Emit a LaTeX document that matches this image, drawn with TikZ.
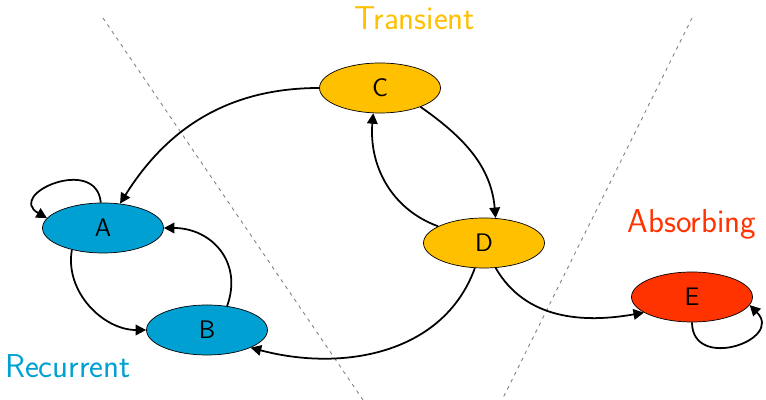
\documentclass[tikz,border=0pt]{standalone}
\usepackage{tikz}
\usetikzlibrary{arrows.meta, positioning, shapes.geometric}
\usepackage{xcolor}

\definecolor{recblue}{RGB}{0,160,210}
\definecolor{transorange}{RGB}{255,192,0}
\definecolor{absred}{RGB}{255,51,0}

\begin{document}
\begin{tikzpicture}[
  font=\sffamily,
  state/.style={draw, ellipse, line width=0.4pt, minimum width=2.42cm, minimum height=1cm, inner sep=0pt, font=\sffamily\Large},
  recurrent/.style={state, fill=recblue},
  transient/.style={state, fill=transorange},
  absorbing/.style={state, fill=absred},
  classlabel/.style={font=\sffamily\fontsize{18.8}{22}\selectfont},
  border/.style={gray, dashed, dash pattern=on 2pt off 2.5pt, line width=0.5pt},
  arrow/.style={line width=1pt, -{Triangle[length=6pt, width=6pt]}}
]
\useasboundingbox (0,0) rectangle (15.32,8);

% Separators between the classes
\coordinate (sepLtop) at (2.06,7.64);
\coordinate (sepLbot) at (7.26,0);
\coordinate (sepRtop) at (13.84,7.64);
\coordinate (sepRbot) at (10.04,0);
\draw[border] (sepLtop) -- (sepLbot);
\draw[border] (sepRtop) -- (sepRbot);

% States
\node[recurrent] (stateA) at (2.06,3.44) {A};
\node[recurrent] (stateB) at (4.14,1.40) {B};
\node[transient] (stateC) at (7.60,6.24) {C};
\node[transient] (stateD) at (9.68,3.14) {D};
\node[absorbing] (stateE) at (13.84,2.06) {E};

% Class names
\node[classlabel, text=recblue] (recLabel) at (1.36,0.68) {Recurrent};
\node[classlabel, text=transorange] (transLabel) at (8.30,7.64) {Transient};
\node[classlabel, text=absred] (absLabel) at (13.84,3.52) {Absorbing};

% Transitions
\draw[arrow] (stateA.95) to[out=95, in=150, looseness=2.2] (stateA.170);
\draw[arrow] (stateC.west) to[out=180, in=58] (stateA.55);
\draw[arrow] (stateA.215) to[out=260, in=180] (stateB.west);
\draw[arrow] (stateB.50) to[out=70, in=0, looseness=1.2] (stateA.east);
\draw[arrow] (stateC.-25) to[out=-35, in=95] (stateD.65);
\draw[arrow] (stateD.160) to[out=160, in=-95] (stateC.255);
\draw[arrow] (stateD.250) to[out=-110, in=-15] (stateB.-22);
\draw[arrow] (stateD.-65) to[out=-60, in=190] (stateE.198);
\draw[arrow] (stateE.-90) to[out=-90, in=-45, looseness=2.1] (stateE.-8);

\end{tikzpicture}
\end{document}
